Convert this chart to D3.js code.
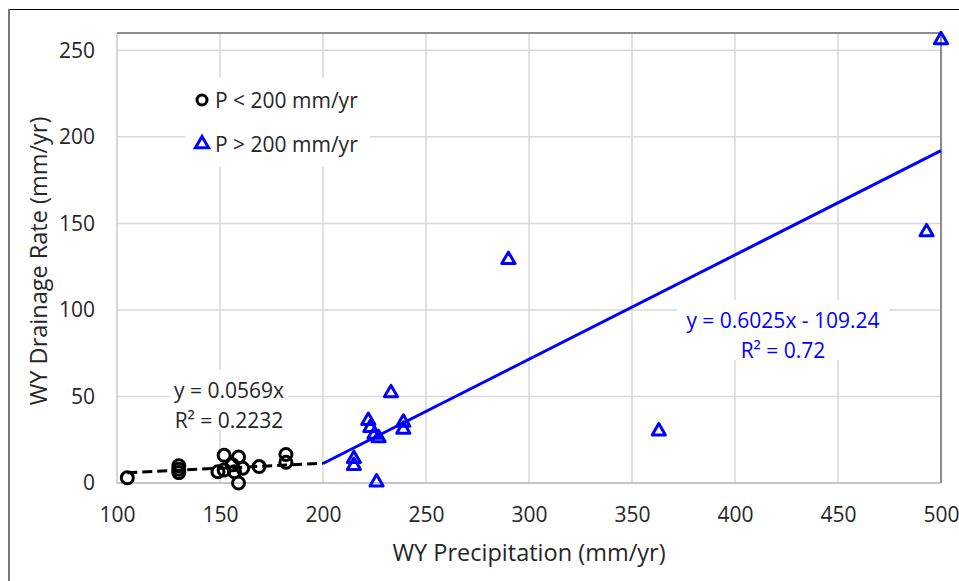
<!DOCTYPE html>
<html><head><meta charset="utf-8">
<script src="https://cdn.jsdelivr.net/npm/d3@7"></script>
<style>
html,body{margin:0;padding:0;background:#fff;}
svg{display:block;}
text{font-family:"Open Sans",sans-serif;fill:#262626;}
</style></head>
<body>
<script>
// ---- data ----
const lowPrecip = [105,130,130,130,149,152,152,156,157,159,159,161,169,182,182];
const lowDrain  = [3,10,8,6,6.5,16,7.5,10.5,6.5,15,0,8.5,9.5,16.5,12];
const highPrecip = [215,215,222,223,225,226,227,233,239,239,290,363,493,500];
const highDrain  = [14,10,36,32,28,0.5,26,52,35,31,129,30,145,256];
const xTicks = [100,150,200,250,300,350,400,450,500];
const yTicks = [0,50,100,150,200,250];
const lowFit = {slope:0.0569, intercept:0, from:105, to:200};
const highFit = {slope:0.6025, intercept:-109.24, from:200, to:500};
const legendLabels = ["P < 200 mm/yr","P > 200 mm/yr"];
const lowEqLabel = ["y = 0.0569x","R² = 0.2232"];
const highEqLabel = ["y = 0.6025x - 109.24","R² = 0.72"];
const xTitle = "WY Precipitation (mm/yr)";
const yTitle = "WY Drainage Rate (mm/yr)";

// ---- layout ----
const W=959,H=581;
const L=117,T=33,R=941,B=483;
const FS="21px";
const svg=d3.select("body").append("svg").attr("width",W).attr("height",H);
const x=d3.scaleLinear().domain([100,500]).range([L,R]);
const y=d3.scaleLinear().domain([0,260]).range([B,T]);

// outer frame
svg.append("line").attr("x1",8).attr("x2",W).attr("y1",9.5).attr("y2",9.5).attr("stroke","#000").attr("stroke-width",1.2);
svg.append("line").attr("x1",9).attr("x2",9).attr("y1",9).attr("y2",H).attr("stroke","#777").attr("stroke-width",2);

// gridlines
const g=svg.append("g");
g.selectAll(".gx").data(xTicks.slice(1,-1)).join("line")
 .attr("x1",d=>x(d)).attr("x2",d=>x(d)).attr("y1",T).attr("y2",B)
 .attr("stroke","#d9d9d9").attr("stroke-width",1.5);
g.selectAll(".gy").data(yTicks.slice(1)).join("line")
 .attr("x1",L).attr("x2",R).attr("y1",d=>y(d)).attr("y2",d=>y(d))
 .attr("stroke","#d9d9d9").attr("stroke-width",1.5);

// plot border
svg.append("line").attr("x1",L).attr("x2",R).attr("y1",T).attr("y2",T).attr("stroke","#8c8c8c").attr("stroke-width",2);
svg.append("line").attr("x1",R).attr("x2",R).attr("y1",T).attr("y2",B).attr("stroke","#8c8c8c").attr("stroke-width",2);
svg.append("line").attr("x1",L).attr("x2",L).attr("y1",T).attr("y2",B).attr("stroke","#c8c8c8").attr("stroke-width",1.5);
svg.append("line").attr("x1",L).attr("x2",R).attr("y1",B).attr("y2",B).attr("stroke","#b0b0b0").attr("stroke-width",1.5);

// axes (text only)
const xAxis=svg.append("g").attr("transform",`translate(0,${B})`)
 .call(d3.axisBottom(x).tickValues(xTicks).tickSize(0).tickPadding(24).tickFormat(d3.format("d")));
xAxis.select(".domain").remove();
xAxis.selectAll("text").style("font-size",FS).attr("fill","#262626").style("font-family","'Open Sans',sans-serif");
const yAxis=svg.append("g").attr("transform",`translate(${L},0)`)
 .call(d3.axisLeft(y).tickValues(yTicks).tickSize(0).tickPadding(22).tickFormat(d3.format("d")));
yAxis.select(".domain").remove();
yAxis.selectAll("text").style("font-size",FS).attr("fill","#262626").style("font-family","'Open Sans',sans-serif");

svg.append("text").attr("x",529).attr("y",561).attr("text-anchor","middle").style("font-size","23.5px").text(xTitle);
svg.append("text").attr("transform","translate(47,261) rotate(-90)").attr("text-anchor","middle").style("font-size","23.5px").text(yTitle);

// label backgrounds
function labelBox(cx,cy,lines,color,w){
  svg.append("rect").attr("x",cx-w/2).attr("y",cy-20).attr("width",w).attr("height",60).attr("fill","#fff");
  lines.forEach((t,i)=>svg.append("text").attr("x",cx).attr("y",cy+i*30).attr("text-anchor","middle")
   .attr("dominant-baseline","central").style("font-size",FS).style("fill",color).text(t));
}
// legend box
svg.append("rect").attr("x",185).attr("y",77).attr("width",185).attr("height",90).attr("fill","#fff");

// trend lines
const line=d3.line().x(d=>x(d[0])).y(d=>y(d[1]));
svg.append("path").datum([lowFit.from,lowFit.to].map(v=>[v,lowFit.slope*v+lowFit.intercept]))
 .attr("d",line).attr("fill","none").attr("stroke","#000").attr("stroke-width",3).attr("stroke-dasharray","10,5");
svg.append("path").datum([highFit.from,highFit.to].map(v=>[v,highFit.slope*v+highFit.intercept]))
 .attr("d",line).attr("fill","none").attr("stroke","#0000ff").attr("stroke-width",3);

labelBox(229,390,lowEqLabel,"#262626",118);
labelBox(783,320,highEqLabel,"#0000ff",212);

// markers
const lowData=lowPrecip.map((p,i)=>[p,lowDrain[i]]);
const highData=highPrecip.map((p,i)=>[p,highDrain[i]]);
svg.append("g").selectAll("circle").data(lowData).join("circle")
 .attr("cx",d=>x(d[0])).attr("cy",d=>y(d[1])).attr("r",6)
 .attr("fill","none").attr("stroke","#000").attr("stroke-width",3);
const tri=d3.symbol().type(d3.symbolTriangle).size(75);
svg.append("g").selectAll("path").data(highData).join("path")
 .attr("transform",d=>`translate(${x(d[0])},${y(d[1])})`).attr("d",tri)
 .attr("fill","none").attr("stroke","#0000ff").attr("stroke-width",3).attr("stroke-linejoin","round");

// legend
svg.append("circle").attr("cx",202).attr("cy",100).attr("r",5).attr("fill","none").attr("stroke","#000").attr("stroke-width",3);
svg.append("path").attr("transform","translate(202,144)").attr("d",tri).attr("fill","none").attr("stroke","#0000ff").attr("stroke-width",3);
legendLabels.forEach((t,i)=>svg.append("text").attr("x",215).attr("y",100+i*44).attr("dominant-baseline","central")
 .style("font-size",FS).text(t));
</script>
</body></html>
